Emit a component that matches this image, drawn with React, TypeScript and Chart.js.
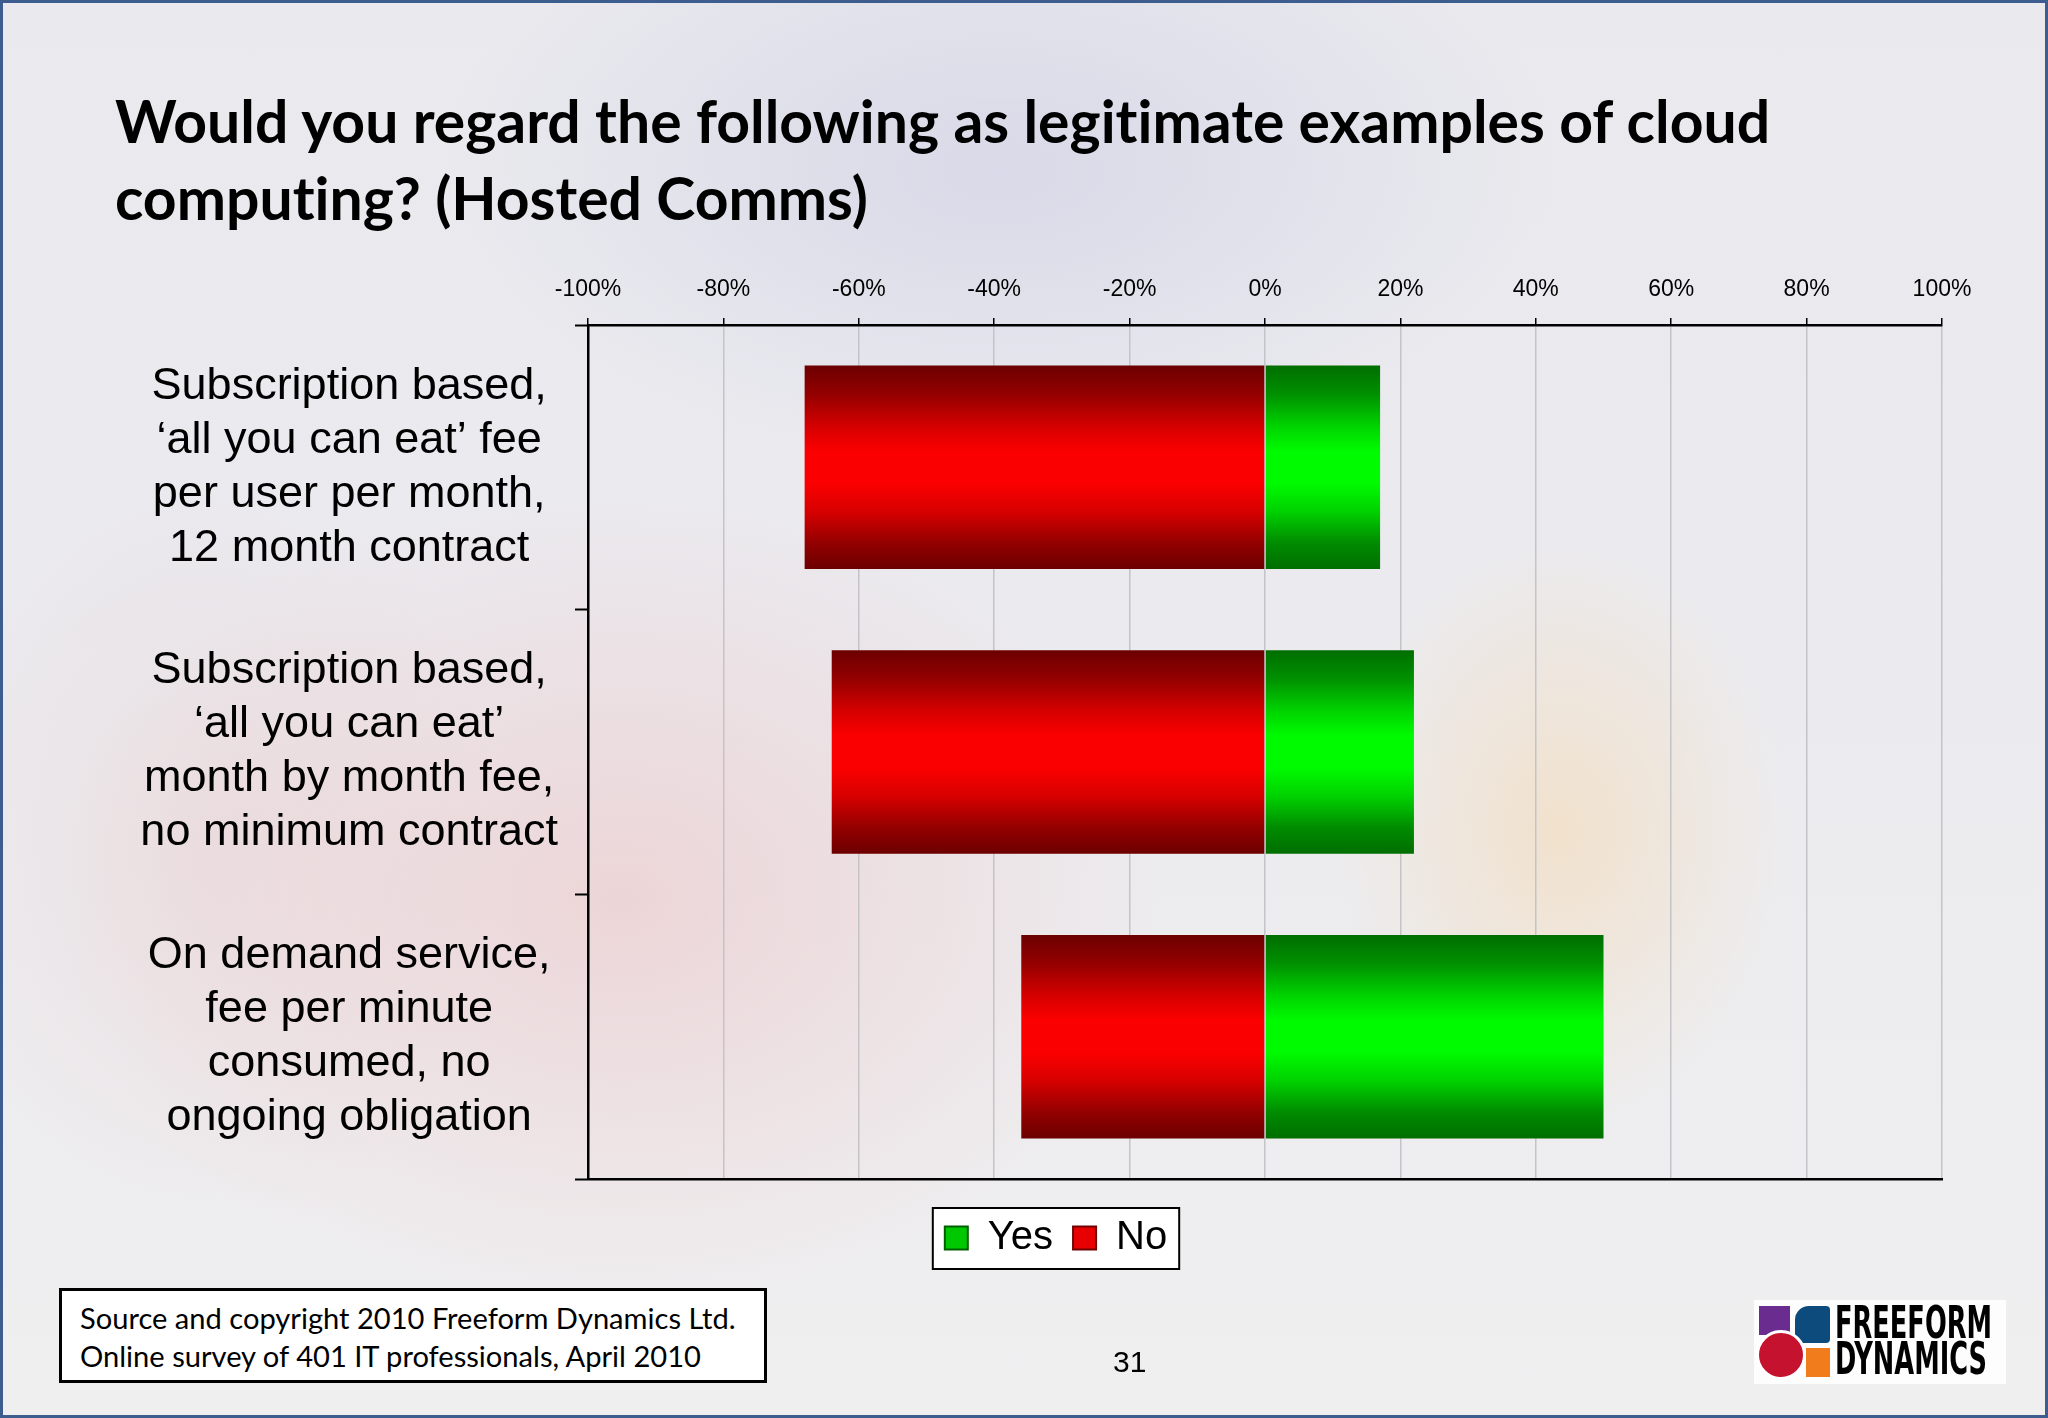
import React, { useEffect, useRef, useState } from "react";
import { Chart, registerables } from "chart.js";

Chart.register(...registerables);

// ---------------- data ----------------
const categories: string[][] = [
  ["Subscription based,", "‘all you can eat’ fee", "per user per month,", "12 month contract"],
  ["Subscription based,", "‘all you can eat’", "month by month fee,", "no minimum contract"],
  ["On demand service,", "fee per minute", "consumed, no", "ongoing obligation"],
];
const seriesNames = ["Yes", "No"];
const yesValues = [17, 22, 50];
const noValues = [-68, -64, -36];
const axisMin = -100;
const axisMax = 100;
const axisStep = 20;

const titleLines = [
  "Would you regard the following as legitimate examples of cloud",
  "computing? (Hosted Comms)",
];
const sourceLines = [
  "Source and copyright 2010 Freeform Dynamics Ltd.",
  "Online survey of 401 IT professionals, April 2010",
];
const pageNumber = "31";
const logoLines = ["FREEFORM", "DYNAMICS"];

// ---------------- styling ----------------
const LABEL_FONT = "'Liberation Sans', Arial, sans-serif";
const TITLE_FONT = "Lato, 'Open Sans', sans-serif";
const BAR_FRACTION = 0.715;

const redStops: [number, string][] = [
  [0, "#6c0000"],
  [0.14, "#940000"],
  [0.3, "#d60000"],
  [0.42, "#fb0000"],
  [0.58, "#fb0000"],
  [0.72, "#d60000"],
  [0.87, "#940000"],
  [1, "#6c0000"],
];
const greenStops: [number, string][] = [
  [0, "#006e00"],
  [0.14, "#009000"],
  [0.3, "#00d400"],
  [0.42, "#00fb00"],
  [0.58, "#00fb00"],
  [0.72, "#00d000"],
  [0.87, "#008c00"],
  [1, "#006e00"],
];

function barGradient(ctx: any, stops: [number, string][], fallback: string) {
  const chart = ctx.chart;
  const area = chart.chartArea;
  const yScale = chart.scales ? chart.scales.y : null;
  if (ctx.type !== "data" || !area || !yScale) return fallback;
  const center = yScale.getPixelForValue(ctx.dataIndex);
  const band = ((area.bottom - area.top) / categories.length) * BAR_FRACTION;
  const g = chart.ctx.createLinearGradient(0, center - band / 2, 0, center + band / 2);
  stops.forEach(([o, c]) => g.addColorStop(o, c));
  return g;
}

const legendFrame = {
  id: "legendFrame",
  beforeDraw(chart: any) {
    const lg = chart.legend;
    if (!lg || !lg.legendHitBoxes || !lg.legendHitBoxes.length) return;
    const boxes = lg.legendHitBoxes;
    const left = Math.min(...boxes.map((b: any) => b.left)) - 12;
    const right = Math.max(...boxes.map((b: any) => b.left + b.width)) + 12;
    const top = Math.min(...boxes.map((b: any) => b.top)) - 10;
    const bottom = Math.max(...boxes.map((b: any) => b.top + b.height)) + 11;
    const c = chart.ctx;
    c.save();
    c.fillStyle = "#ffffff";
    c.fillRect(left, top, right - left, bottom - top);
    c.strokeStyle = "#000000";
    c.lineWidth = 2;
    c.strokeRect(left, top, right - left, bottom - top);
    c.restore();
  },
};

function measure(text: string, font: string): number {
  const cv = document.createElement("canvas");
  const c = cv.getContext("2d");
  if (!c) return 100;
  c.font = font;
  return c.measureText(text).width;
}

function ChartCanvas() {
  const ref = useRef<HTMLCanvasElement | null>(null);
  useEffect(() => {
    if (!ref.current) return;
    const chart = new Chart(ref.current, {
      type: "bar",
      data: {
        labels: categories,
        datasets: [
          {
            label: seriesNames[0],
            data: yesValues,
            backgroundColor: (ctx: any) => barGradient(ctx, greenStops, "#00d000"),
            borderWidth: 0,
            barPercentage: BAR_FRACTION,
            categoryPercentage: 1,
          },
          {
            label: seriesNames[1],
            data: noValues,
            backgroundColor: (ctx: any) => barGradient(ctx, redStops, "#e00000"),
            borderWidth: 0,
            barPercentage: BAR_FRACTION,
            categoryPercentage: 1,
          },
        ],
      },
      options: {
        indexAxis: "y",
        responsive: false,
        animation: false,
        devicePixelRatio: 1,
        layout: { padding: { left: 100, right: 36, top: 275, bottom: 150 } },
        scales: {
          x: {
            type: "linear",
            position: "top",
            stacked: true,
            min: axisMin,
            max: axisMax,
            ticks: {
              stepSize: axisStep,
              callback: (v: any) => `${v}%`,
              color: "#000",
              padding: 15,
              font: { family: LABEL_FONT, size: 23 },
            },
            grid: {
              color: "#c4c4c8",
              lineWidth: 1.5,
              tickColor: "#000",
              tickLength: 7,
              tickWidth: 1.5,
            },
            border: { display: true, color: "#000", width: 2.5 },
            afterFit: (s: any) => {
              s.height = 50;
            },
          },
          x2: {
            type: "linear",
            axis: "x",
            position: "bottom",
            min: axisMin,
            max: axisMax,
            ticks: { display: false },
            grid: { display: false },
            border: { display: true, color: "#000", width: 2.5 },
            afterFit: (s: any) => {
              s.height = 19;
            },
          },
          y: {
            type: "category",
            position: "left",
            stacked: true,
            ticks: {
              crossAlign: "center",
              padding: 17,
              color: "#000",
              font: { family: LABEL_FONT, size: 45, lineHeight: 1.2 },
            },
            grid: {
              drawOnChartArea: false,
              offset: true,
              tickLength: 13,
              tickColor: "#000",
              tickWidth: 2,
            },
            border: { display: true, color: "#000", width: 2.5 },
            afterFit: (s: any) => {
              s.width = 488;
            },
          },
          y2: {
            type: "category",
            axis: "y",
            position: "right",
            ticks: { display: false },
            grid: { display: false },
            border: { display: false },
            afterFit: (s: any) => {
              s.width = 70;
            },
          },
        },
        plugins: {
          tooltip: { enabled: false },
          legend: {
            display: true,
            position: "bottom",
            labels: {
              color: "#000",
              font: { family: LABEL_FONT, size: 40 },
              boxWidth: 23,
              boxHeight: 23,
              padding: 20,
              generateLabels: (ch: any) =>
                ch.data.datasets.map((ds: any, i: number) => ({
                  text: ds.label,
                  fillStyle: i === 0 ? "#00c800" : "#e80000",
                  strokeStyle: i === 0 ? "#006000" : "#700000",
                  lineWidth: 2,
                  hidden: false,
                  datasetIndex: i,
                  fontColor: "#000",
                })),
            },
          },
        },
      },
      plugins: [legendFrame],
    } as any);
    return () => chart.destroy();
  }, []);
  return (
    <canvas
      ref={ref}
      width={2048}
      height={1418}
      style={{ position: "absolute", left: 0, top: 0, width: 2048, height: 1418 }}
    />
  );
}

export default function App() {
  const [titleSize, setTitleSize] = useState(57);
  const [sourceSize, setSourceSize] = useState(28);
  const [logoScale, setLogoScale] = useState(0.75);

  useEffect(() => {
    const tw = measure(titleLines[0], `bold 100px ${TITLE_FONT}`);
    if (tw > 0) setTitleSize((100 * 1659) / tw);
    const sw = measure(sourceLines[0], `100px ${TITLE_FONT}`);
    if (sw > 0) setSourceSize((100 * 656) / sw);
    const lw = measure(logoLines[0], `bold 45px 'Liberation Sans Narrow', 'DejaVu Sans Condensed', sans-serif`);
    if (lw > 0) setLogoScale(157 / lw);
  }, []);

  const baselineTop = (baseline: number, size: number) => baseline - 0.987 * size;

  return (
    <div
      style={{
        position: "absolute",
        left: 0,
        top: 0,
        width: 2048,
        height: 1418,
        overflow: "hidden",
        background: [
          "radial-gradient(ellipse 560px 420px at 620px 900px, rgba(236,175,175,0.38), rgba(236,175,175,0) 100%)",
          "radial-gradient(ellipse 230px 300px at 1560px 830px, rgba(246,214,170,0.5), rgba(246,214,170,0) 100%)",
          "radial-gradient(ellipse 560px 300px at 1000px 170px, rgba(190,190,222,0.38), rgba(190,190,222,0) 100%)",
          "radial-gradient(ellipse 300px 400px at 200px 850px, rgba(230,190,190,0.25), rgba(230,190,190,0) 100%)",
          "linear-gradient(180deg, #e9e9ee 0%, #ebebef 45%, #efeff0 100%)",
        ].join(","),
      }}
    >
      {titleLines.map((t, i) => (
        <div
          key={i}
          style={{
            position: "absolute",
            left: 115,
            top: baselineTop(i === 0 ? 144 : 221, titleSize),
            fontFamily: TITLE_FONT,
            fontWeight: 700,
            fontSize: titleSize,
            lineHeight: 1.2,
            color: "#000",
            whiteSpace: "nowrap",
            fontVariantLigatures: "none",
            fontFeatureSettings: "'liga' 0, 'clig' 0",
          }}
        >
          {t}
        </div>
      ))}

      <ChartCanvas />

      <div
        style={{
          position: "absolute",
          left: 59,
          top: 1288,
          width: 708,
          height: 95,
          boxSizing: "border-box",
          border: "3px solid #000",
          background: "#fff",
        }}
      />
      {sourceLines.map((t, i) => (
        <div
          key={i}
          style={{
            position: "absolute",
            left: 80,
            top: baselineTop(i === 0 ? 1330 : 1368, sourceSize),
            fontFamily: TITLE_FONT,
            fontSize: sourceSize,
            lineHeight: 1.2,
            color: "#000",
            whiteSpace: "nowrap",
            fontVariantLigatures: "none",
          }}
        >
          {t}
        </div>
      ))}

      <div
        style={{
          position: "absolute",
          left: 1113,
          top: 1347,
          fontFamily: LABEL_FONT,
          fontSize: 30,
          lineHeight: "30px",
          color: "#000",
        }}
      >
        {pageNumber}
      </div>

      {/* logo */}
      <div
        style={{
          position: "absolute",
          left: 1754,
          top: 1300,
          width: 252,
          height: 84,
          background: "rgba(255,255,255,0.85)",
        }}
      >
        <div style={{ position: "absolute", left: 5, top: 6, width: 31, height: 29, background: "#6b2c8f" }} />
        <div
          style={{
            position: "absolute",
            left: 41,
            top: 6,
            width: 35,
            height: 37,
            background: "#0c4b7c",
            borderRadius: "14px 4px 4px 4px",
          }}
        />
        <div style={{ position: "absolute", left: 52, top: 48, width: 24, height: 29, background: "#f07c1c" }} />
        <div
          style={{
            position: "absolute",
            left: 2,
            top: 30,
            width: 50,
            height: 50,
            boxSizing: "border-box",
            borderRadius: "50%",
            background: "#c5122f",
            border: "3px solid #fff",
          }}
        />
        {logoLines.map((t, i) => (
          <div
            key={i}
            style={{
              position: "absolute",
              left: 81,
              top: i === 0 ? 0 : 36,
              fontFamily: "'Liberation Sans Narrow', 'DejaVu Sans Condensed', sans-serif",
              fontWeight: 700,
              fontSize: 45,
              lineHeight: "45px",
              color: "#000",
              whiteSpace: "nowrap",
              transform: `scaleX(${logoScale})`,
              transformOrigin: "left top",
            }}
          >
            {t}
          </div>
        ))}
      </div>

      {/* slide frame */}
      <div
        style={{
          position: "absolute",
          left: 0,
          top: 0,
          width: 2048,
          height: 1418,
          boxSizing: "border-box",
          border: "3px solid #3d5d8e",
          pointerEvents: "none",
        }}
      />
    </div>
  );
}
